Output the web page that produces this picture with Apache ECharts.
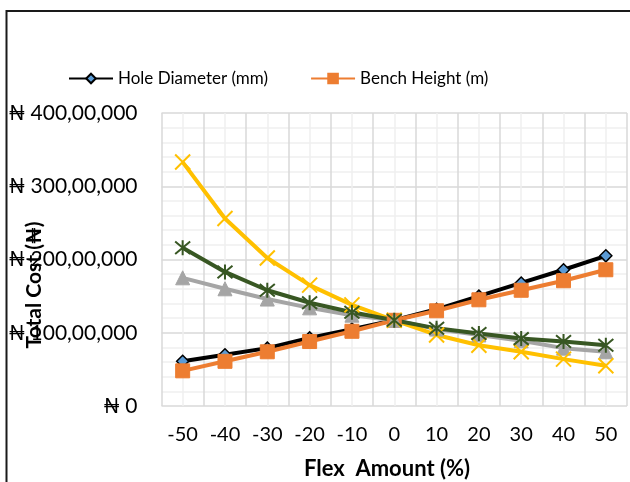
<!DOCTYPE html>
<html>
<head>
<meta charset="utf-8">
<script src="https://cdn.jsdelivr.net/npm/echarts@6/dist/echarts.min.js"></script>
<style>html,body{margin:0;padding:0;background:#fff}#c{width:630px;height:482px}</style>
</head>
<body>
<div id="c"></div>
<script>
// Values in lakh naira (1 lakh = 1,00,000)
const LAKH = 100000;
const flexAmount = [-50, -40, -30, -20, -10, 0, 10, 20, 30, 40, 50];
const holeDiameter = [61, 70, 79, 93, 105, 117, 132, 150, 168, 186, 205];
const benchHeight = [48, 61, 74, 88, 102, 117, 130, 145, 158, 171, 186];
const seriesGray = [175, 160, 146, 134, 124, 117, 105, 97, 89, 79, 74];
const seriesYellow = [333, 256, 202, 165, 138, 117, 97, 83, 74, 64, 55];
const seriesGreen = [216, 183, 158, 141, 128, 117, 106, 99, 92, 88, 83];
const yTickLabels = [0, 100, 200, 300, 400]; // lakh

const FONT = "Lato, 'DejaVu Sans', sans-serif";

// format like the source: ###,##,### (e.g. 400,00,000)
function fmt(n) {
  const s = String(Math.round(n));
  if (s.length <= 3) return s;
  if (s.length <= 5) return s.slice(0, -3) + ',' + s.slice(-3);
  return s.slice(0, -5) + ',' + s.slice(-5, -3) + ',' + s.slice(-3);
}
function pairs(arr) { return flexAmount.map((x, i) => [x, arr[i] * LAKH]); }

const crossPath = 'path://M0,0L10,10M10,0L0,10';
const starPath = 'path://M0,0L10,10M10,0L0,10M5,-1L5,11';

const chart = echarts.init(document.getElementById('c'), null, {renderer: 'canvas'});
chart.setOption({
  animation: false,
  backgroundColor: '#fff',
  grid: {left: 161.5, right: -5.5, top: 113, bottom: 76, containLabel: false},
  legend: {
    data: ['Hole Diameter (mm)', 'Bench Height (m)'],
    left: 63, top: 65, itemWidth: 44, itemHeight: 12, itemGap: 42,
    textStyle: {fontFamily: FONT, fontSize: 17, color: '#000'}
  },
  xAxis: {
    type: 'value', min: -55, max: 55, interval: 5,
    axisLine: {show: false}, axisTick: {show: false},
    axisLabel: {
      fontFamily: FONT, fontSize: 20, color: '#000', margin: 19,
      showMinLabel: true, showMaxLabel: true,
      formatter: v => (flexAmount.indexOf(v) >= 0 ? String(v) : '')
    },
    splitLine: {show: true, lineStyle: {color: ['#d9d9d9', '#efefef'], width: 1.5}}
  },
  yAxis: {
    type: 'value', min: 0, max: 400 * LAKH, interval: 20 * LAKH,
    axisLine: {show: false}, axisTick: {show: false},
    axisLabel: {
      fontFamily: FONT, fontSize: 21, color: '#000', margin: 24,
      formatter: v => (yTickLabels.indexOf(Math.round(v / LAKH)) >= 0 ? '₦ ' + fmt(v) : '')
    },
    splitLine: {show: true, lineStyle: {color: ['#d9d9d9', '#efefef', '#efefef', '#efefef', '#efefef'], width: 1.5}}
  },
  graphic: [
    {type: 'rect', shape: {x: 6.5, y: 11, width: 700, height: 600}, style: {fill: 'none', stroke: '#1a1a1a', lineWidth: 2}, z: 100},
    {type: 'text', x: 34, y: 285, rotation: Math.PI / 2,
      style: {text: 'Total Cost (₦)', font: "bold 21px Lato, 'DejaVu Sans', sans-serif", fill: '#000', align: 'center', verticalAlign: 'middle'}, z: 100},
    {type: 'text', x: 387, y: 469,
      style: {text: 'Flex  Amount (%)', font: "bold 22px Lato, 'DejaVu Sans', sans-serif", fill: '#000', align: 'center', verticalAlign: 'middle'}, z: 100}
  ],
  series: [
    {name: 'Hole Diameter (mm)', type: 'line', data: pairs(holeDiameter),
      lineStyle: {color: '#000', width: 4}, symbol: 'diamond', symbolSize: 12,
      itemStyle: {color: '#5B9BD5', borderColor: '#000', borderWidth: 1.5}},
    {name: 'Bench Height (m)', type: 'line', data: pairs(benchHeight),
      lineStyle: {color: '#ED7D31', width: 4}, symbol: 'rect', symbolSize: 14,
      itemStyle: {color: '#ED7D31', borderColor: '#ED7D31', borderWidth: 1}},
    {name: 'Series 3', type: 'line', data: pairs(seriesGray),
      lineStyle: {color: '#A5A5A5', width: 4}, symbol: 'triangle', symbolSize: 14,
      itemStyle: {color: '#A5A5A5', borderColor: '#A5A5A5', borderWidth: 1}},
    {name: 'Series 4', type: 'line', data: pairs(seriesYellow),
      lineStyle: {color: '#FFC000', width: 4}, symbol: crossPath, symbolSize: 15,
      itemStyle: {color: 'none', borderColor: '#FFC000', borderWidth: 2}},
    {name: 'Series 5', type: 'line', data: pairs(seriesGreen),
      lineStyle: {color: '#385723', width: 4}, symbol: starPath, symbolSize: 15,
      itemStyle: {color: 'none', borderColor: '#385723', borderWidth: 2}}
  ]
});
</script>
</body>
</html>
